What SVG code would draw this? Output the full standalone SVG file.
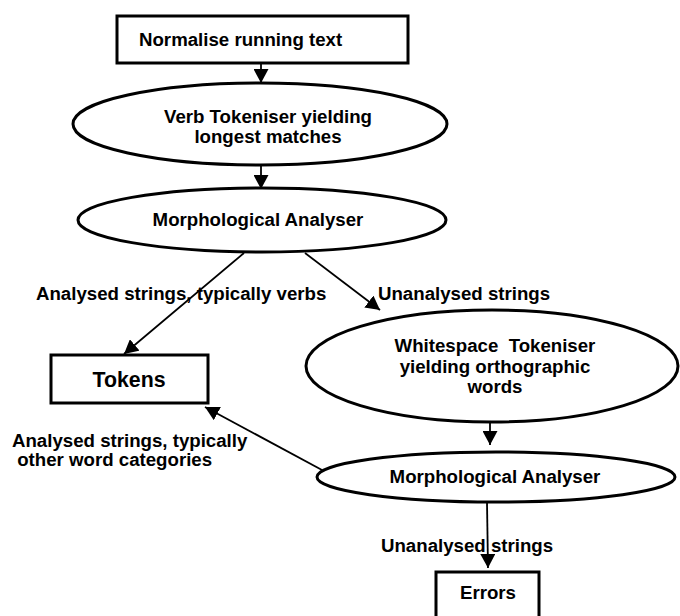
<svg xmlns="http://www.w3.org/2000/svg" width="680" height="616" viewBox="0 0 680 616">
<defs>
<marker id="ah" viewBox="0 0 10 10" refX="10" refY="5" markerWidth="14" markerHeight="15" markerUnits="userSpaceOnUse" orient="auto" preserveAspectRatio="none">
<path d="M0,0 L10,5 L0,10 z" fill="#000"/>
</marker>
<style>
.shape{fill:#fff;stroke:#000;stroke-width:3}
.t{font-family:"Liberation Sans",Arial,sans-serif;font-weight:bold;font-size:18.67px;fill:#000;white-space:pre}
.c{text-anchor:middle}
.big{font-size:21.33px}
.conn{stroke:#000;stroke-width:1.8;fill:none;marker-end:url(#ah)}
</style>
</defs>
<rect width="680" height="616" fill="#fff"/>
<g id="connectors">
<line class="conn" x1="261" y1="63" x2="261" y2="83"/>
<line class="conn" x1="261" y1="166" x2="261" y2="189"/>
<line class="conn" x1="244" y1="253" x2="124" y2="354"/>
<line class="conn" x1="305" y1="253" x2="380" y2="310"/>
<line class="conn" x1="490" y1="423" x2="490" y2="445"/>
<line class="conn" x1="322" y1="470" x2="205" y2="407"/>
<line class="conn" x1="487" y1="502" x2="488" y2="568"/>
</g>
<g id="normalise">
<rect class="shape" x="117" y="16" width="291" height="47"/>
<text class="t" x="139" y="46">Normalise running text</text>
</g>
<g id="verb-tokeniser">
<ellipse class="shape" cx="260" cy="124" rx="187" ry="41"/>
<text class="t c" x="268" y="123">Verb Tokeniser yielding</text>
<text class="t c" x="268" y="143">longest matches</text>
</g>
<g id="morph1">
<ellipse class="shape" cx="262" cy="220" rx="184" ry="32"/>
<text class="t c" x="258" y="226">Morphological Analyser</text>
</g>
<g id="whitespace-tokeniser">
<ellipse class="shape" cx="492" cy="366" rx="186" ry="56"/>
<text class="t c" x="495" y="352">Whitespace  Tokeniser</text>
<text class="t c" x="495" y="373">yielding orthographic</text>
<text class="t c" x="495" y="393">words</text>
</g>
<g id="morph2">
<ellipse class="shape" cx="496" cy="477" rx="179" ry="25"/>
<text class="t c" x="495" y="483">Morphological Analyser</text>
</g>
<g id="tokens">
<rect class="shape" x="51" y="355" width="157" height="48"/>
<text class="t c big" x="129" y="387">Tokens</text>
</g>
<g id="errors">
<rect class="shape" x="436" y="572" width="103" height="50"/>
<text class="t c" x="488" y="599">Errors</text>
</g>
<g id="labels">
<text class="t" x="36" y="300">Analysed strings, typically verbs</text>
<text class="t" x="378" y="300">Unanalysed strings</text>
<text class="t" x="12" y="447">Analysed strings, typically</text>
<text class="t" x="12" y="466"> other word categories</text>
<text class="t" x="381" y="552">Unanalysed strings</text>
</g>
</svg>
